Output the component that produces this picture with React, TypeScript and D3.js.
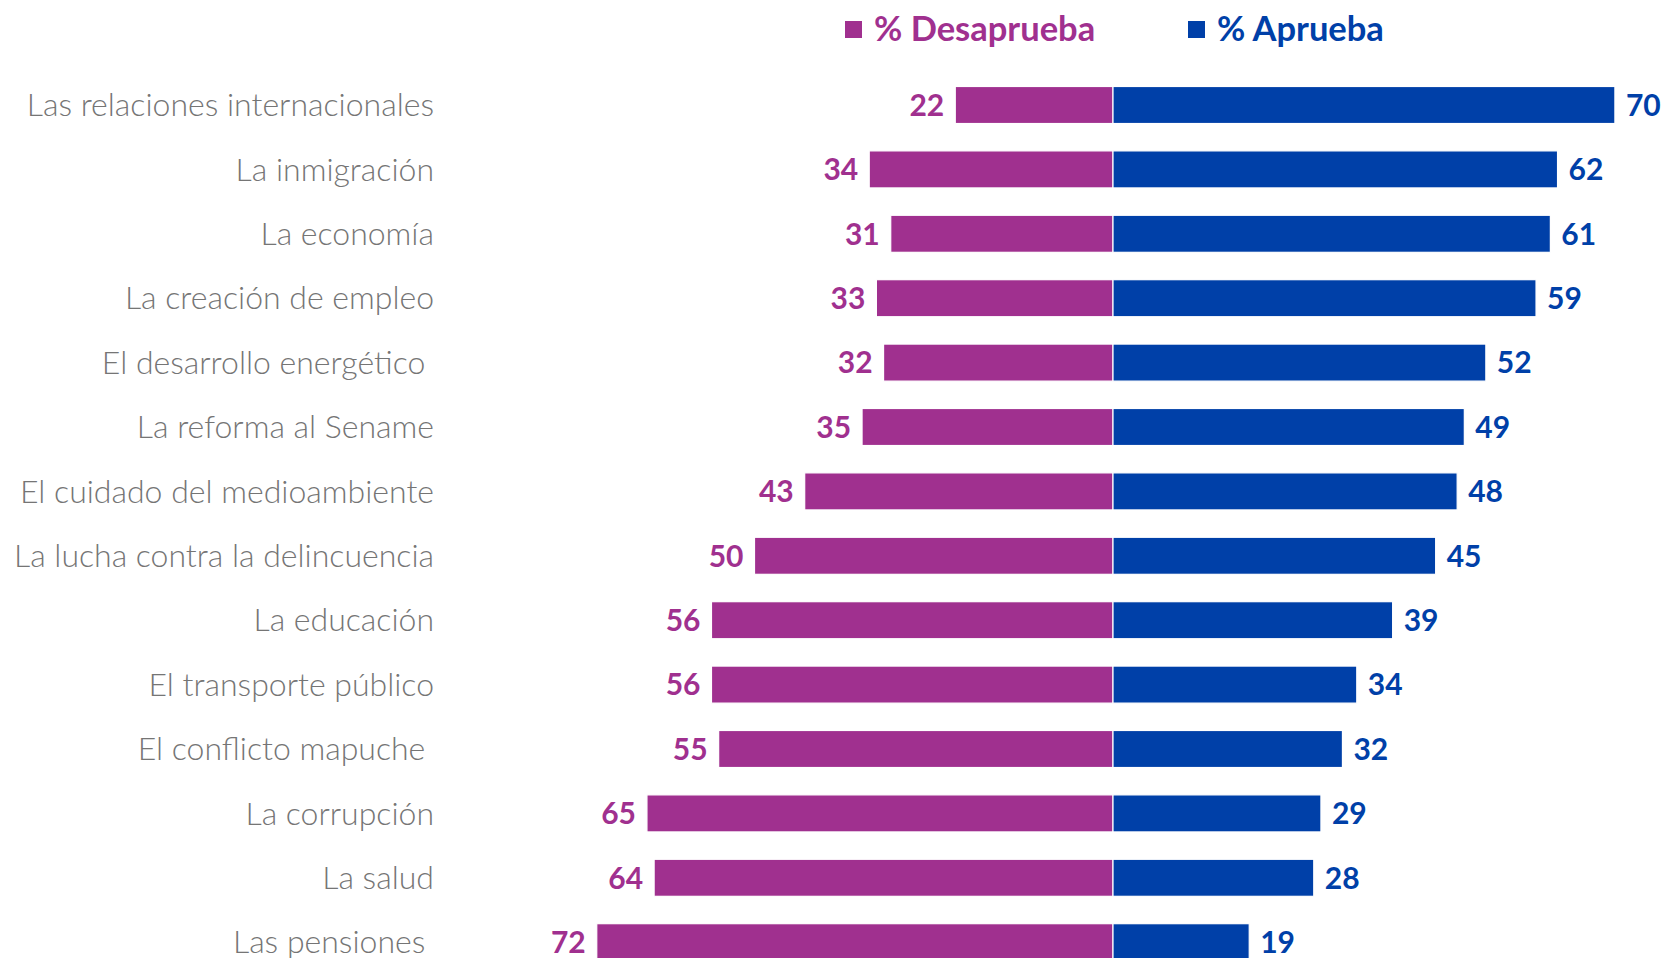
import React from 'react';
import * as d3 from 'd3';

// Approval by policy area
const categories = [
  'Las relaciones internacionales',
  'La inmigración',
  'La economía',
  'La creación de empleo',
  'El desarrollo energético ',
  'La reforma al Sename',
  'El cuidado del medioambiente',
  'La lucha contra la delincuencia',
  'La educación',
  'El transporte público',
  'El conflicto mapuche ',
  'La corrupción',
  'La salud',
  'Las pensiones ',
];
const desaprueba = [22, 34, 31, 33, 32, 35, 43, 50, 56, 56, 55, 65, 64, 72];
const aprueba = [70, 62, 61, 59, 52, 49, 48, 45, 39, 34, 32, 29, 28, 19];
const seriesNames = ['% Desaprueba', '% Aprueba'];

const W = 1667;
const H = 958;
const MAGENTA = '#A0308F';
const BLUE = '#0040A8';
const GRAY = '#757575';
const FONT = 'Lato, "Open Sans", sans-serif';

const App = () => {
  const center = 1113;
  const unit = 7.17;
  const x = d3.scaleLinear()
    .domain([-80, 80])
    .range([center - 80 * unit, center + 80 * unit]);

  const step = 64.4;
  const y = d3.scaleBand()
    .domain(categories)
    .range([105 - step / 2, 105 - step / 2 + step * categories.length])
    .paddingInner(0.425)
    .paddingOuter(0.2125);
  const bw = y.bandwidth();

  return (
    <div style={{ position: 'fixed', left: 0, top: 0, width: W, height: H, background: '#fff' }}>
      <svg width={W} height={H} style={{ display: 'block' }}>
        {/* legend */}
        <g fontFamily={FONT} fontWeight={700} fontSize={34.5}>
          <rect x={845} y={21} width={17} height={17} fill={MAGENTA} />
          <text x={874} y={41} fill={MAGENTA}>{seriesNames[0]}</text>
          <rect x={1188} y={21} width={17} height={17} fill={BLUE} />
          <text x={1217} y={41} fill={BLUE}>{seriesNames[1]}</text>
        </g>

        {categories.map((c, i) => {
          const y0 = y(c) as number;
          const cy = y0 + bw / 2;
          return (
            <g key={c}>
              <text
                x={434}
                y={cy}
                dy="0.35em"
                textAnchor="end"
                fontFamily={FONT}
                fontWeight={300}
                fontSize={32}
                fill={GRAY}
                style={{ whiteSpace: 'pre' }}
              >
                {c}
              </text>
              <rect
                x={x(-desaprueba[i])}
                y={y0}
                width={x(0) - x(-desaprueba[i])}
                height={bw}
                fill={MAGENTA}
                stroke="#fff"
                strokeWidth={1.2}
              />
              <rect
                x={x(0)}
                y={y0}
                width={x(aprueba[i]) - x(0)}
                height={bw}
                fill={BLUE}
                stroke="#fff"
                strokeWidth={1.2}
              />
              <text
                x={x(-desaprueba[i]) - 11}
                y={cy}
                dy="0.36em"
                textAnchor="end"
                fontFamily={FONT}
                fontWeight={700}
                fontSize={30}
                fill={MAGENTA}
              >
                {desaprueba[i]}
              </text>
              <text
                x={x(aprueba[i]) + 11}
                y={cy}
                dy="0.36em"
                textAnchor="start"
                fontFamily={FONT}
                fontWeight={700}
                fontSize={30}
                fill={BLUE}
              >
                {aprueba[i]}
              </text>
            </g>
          );
        })}
      </svg>
    </div>
  );
};

export default App;
